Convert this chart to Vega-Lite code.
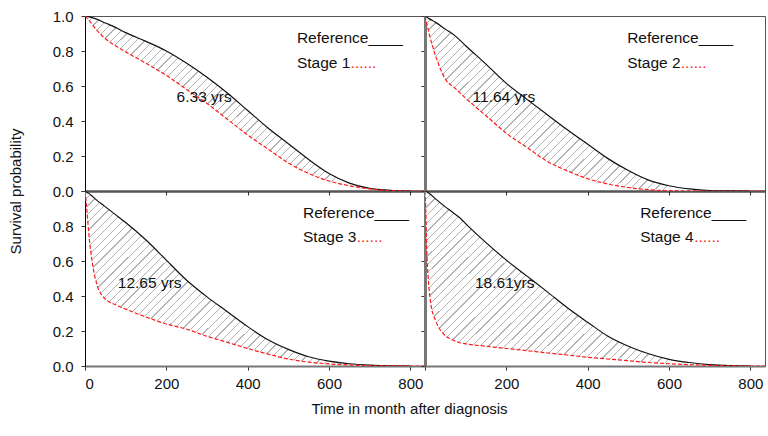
{
"$schema": "https://vega.github.io/schema/vega-lite/v6.json",
"padding": {"left": 7, "top": 8, "right": 2, "bottom": 4},
"background": "white",
"datasets": {
"curves": [
{"panel":"S1","t":0,"ref":1,"stage":1},
{"panel":"S1","t":10,"ref":0.995,"stage":0.975},
{"panel":"S1","t":25,"ref":0.985,"stage":0.93},
{"panel":"S1","t":50,"ref":0.96,"stage":0.87},
{"panel":"S1","t":75,"ref":0.935,"stage":0.83},
{"panel":"S1","t":100,"ref":0.905,"stage":0.795},
{"panel":"S1","t":150,"ref":0.855,"stage":0.73},
{"panel":"S1","t":200,"ref":0.8,"stage":0.66},
{"panel":"S1","t":250,"ref":0.73,"stage":0.58},
{"panel":"S1","t":300,"ref":0.65,"stage":0.5},
{"panel":"S1","t":350,"ref":0.56,"stage":0.41},
{"panel":"S1","t":400,"ref":0.46,"stage":0.32},
{"panel":"S1","t":450,"ref":0.36,"stage":0.24},
{"panel":"S1","t":500,"ref":0.27,"stage":0.16},
{"panel":"S1","t":550,"ref":0.18,"stage":0.1},
{"panel":"S1","t":600,"ref":0.1,"stage":0.057},
{"panel":"S1","t":650,"ref":0.045,"stage":0.03},
{"panel":"S1","t":700,"ref":0.015,"stage":0.012},
{"panel":"S1","t":750,"ref":0.004,"stage":0.003},
{"panel":"S1","t":800,"ref":0,"stage":0},
{"panel":"S1","t":836,"ref":null,"stage":0},
{"panel":"S2","t":0,"ref":1,"stage":1},
{"panel":"S2","t":5,"ref":0.993,"stage":0.95},
{"panel":"S2","t":10,"ref":0.985,"stage":0.9},
{"panel":"S2","t":25,"ref":0.965,"stage":0.78},
{"panel":"S2","t":50,"ref":0.925,"stage":0.64},
{"panel":"S2","t":75,"ref":0.885,"stage":0.585},
{"panel":"S2","t":100,"ref":0.83,"stage":0.53},
{"panel":"S2","t":150,"ref":0.725,"stage":0.43},
{"panel":"S2","t":200,"ref":0.615,"stage":0.33},
{"panel":"S2","t":250,"ref":0.525,"stage":0.25},
{"panel":"S2","t":300,"ref":0.437,"stage":0.17},
{"panel":"S2","t":350,"ref":0.35,"stage":0.115},
{"panel":"S2","t":400,"ref":0.267,"stage":0.07},
{"panel":"S2","t":450,"ref":0.185,"stage":0.04},
{"panel":"S2","t":500,"ref":0.117,"stage":0.02},
{"panel":"S2","t":550,"ref":0.062,"stage":0.007},
{"panel":"S2","t":600,"ref":0.03,"stage":0.002},
{"panel":"S2","t":650,"ref":0.012,"stage":0.001},
{"panel":"S2","t":700,"ref":0.003,"stage":0},
{"panel":"S2","t":750,"ref":0.001,"stage":0},
{"panel":"S2","t":800,"ref":0,"stage":0},
{"panel":"S2","t":836,"ref":null,"stage":0},
{"panel":"S3","t":0,"ref":1,"stage":1},
{"panel":"S3","t":5,"ref":0.992,"stage":0.88},
{"panel":"S3","t":10,"ref":0.985,"stage":0.74},
{"panel":"S3","t":18,"ref":0.97,"stage":0.59},
{"panel":"S3","t":30,"ref":0.945,"stage":0.46},
{"panel":"S3","t":47,"ref":0.915,"stage":0.39},
{"panel":"S3","t":75,"ref":0.865,"stage":0.35},
{"panel":"S3","t":100,"ref":0.82,"stage":0.325},
{"panel":"S3","t":150,"ref":0.72,"stage":0.28},
{"panel":"S3","t":200,"ref":0.605,"stage":0.24},
{"panel":"S3","t":250,"ref":0.49,"stage":0.21},
{"panel":"S3","t":300,"ref":0.395,"stage":0.17},
{"panel":"S3","t":350,"ref":0.31,"stage":0.135},
{"panel":"S3","t":400,"ref":0.225,"stage":0.1},
{"panel":"S3","t":450,"ref":0.15,"stage":0.068},
{"panel":"S3","t":500,"ref":0.095,"stage":0.04},
{"panel":"S3","t":550,"ref":0.053,"stage":0.022},
{"panel":"S3","t":600,"ref":0.028,"stage":0.012},
{"panel":"S3","t":650,"ref":0.013,"stage":0.006},
{"panel":"S3","t":700,"ref":0.005,"stage":0.002},
{"panel":"S3","t":750,"ref":0.001,"stage":0.001},
{"panel":"S3","t":800,"ref":0,"stage":0},
{"panel":"S3","t":836,"ref":null,"stage":0},
{"panel":"S4","t":0,"ref":1,"stage":1},
{"panel":"S4","t":2,"ref":0.998,"stage":0.88},
{"panel":"S4","t":4,"ref":0.996,"stage":0.69},
{"panel":"S4","t":8,"ref":0.99,"stage":0.5},
{"panel":"S4","t":14,"ref":0.98,"stage":0.36},
{"panel":"S4","t":26,"ref":0.955,"stage":0.26},
{"panel":"S4","t":47,"ref":0.915,"stage":0.18},
{"panel":"S4","t":67,"ref":0.88,"stage":0.15},
{"panel":"S4","t":84,"ref":0.85,"stage":0.134},
{"panel":"S4","t":108,"ref":0.795,"stage":0.124},
{"panel":"S4","t":150,"ref":0.705,"stage":0.113},
{"panel":"S4","t":200,"ref":0.605,"stage":0.1},
{"panel":"S4","t":250,"ref":0.515,"stage":0.088},
{"panel":"S4","t":300,"ref":0.425,"stage":0.075},
{"panel":"S4","t":350,"ref":0.333,"stage":0.063},
{"panel":"S4","t":400,"ref":0.25,"stage":0.05},
{"panel":"S4","t":450,"ref":0.17,"stage":0.04},
{"panel":"S4","t":500,"ref":0.113,"stage":0.03},
{"panel":"S4","t":550,"ref":0.07,"stage":0.02},
{"panel":"S4","t":600,"ref":0.038,"stage":0.013},
{"panel":"S4","t":650,"ref":0.02,"stage":0.008},
{"panel":"S4","t":700,"ref":0.008,"stage":0.004},
{"panel":"S4","t":750,"ref":0.002,"stage":0.001},
{"panel":"S4","t":800,"ref":0,"stage":0},
{"panel":"S4","t":836,"ref":null,"stage":0}
],
"labels": [
{"panel":"S1","role":"pct","t":293,"S":0.54,"text":"6.33 yrs"},
{"panel":"S1","role":"ref","t":521,"S":0.874,"text":"Reference____"},
{"panel":"S1","role":"stage","t":521,"S":0.731,"text":"Stage 1"},
{"panel":"S1","role":"dots","t":653,"S":0.731,"text":"......"},
{"panel":"S2","role":"pct","t":194,"S":0.54,"text":"11.64 yrs"},
{"panel":"S2","role":"ref","t":497,"S":0.874,"text":"Reference____"},
{"panel":"S2","role":"stage","t":497,"S":0.731,"text":"Stage 2"},
{"panel":"S2","role":"dots","t":629,"S":0.731,"text":"......"},
{"panel":"S3","role":"pct","t":159,"S":0.472,"text":"12.65 yrs"},
{"panel":"S3","role":"ref","t":536,"S":0.876,"text":"Reference____"},
{"panel":"S3","role":"stage","t":536,"S":0.738,"text":"Stage 3"},
{"panel":"S3","role":"dots","t":668,"S":0.738,"text":"......"},
{"panel":"S4","role":"pct","t":196,"S":0.472,"text":"18.61yrs"},
{"panel":"S4","role":"ref","t":529,"S":0.876,"text":"Reference____"},
{"panel":"S4","role":"stage","t":529,"S":0.738,"text":"Stage 4"},
{"panel":"S4","role":"dots","t":662,"S":0.738,"text":"......"}
]
},
"columns": 2,
"spacing": 0,
"bounds": "flush",
"concat": [
{"width": 340, "height": 175, "layer": [
 {"data":{"name":"curves"},"transform":[{"filter":"datum.panel=='S1' && isValid(datum.ref)"}],
  "mark":{"type":"area","clip":true,"interpolate":"monotone"},
  "encoding":{
   "x":{"field":"t","type":"quantitative","title":null,"scale":{"domain":[0,836],"nice":false,"zero":false},"axis":{"values":[0,200,400,600,800],"labels":false,"domainColor":"#000","domainWidth":2}},
   "y":{"field":"ref","type":"quantitative","title":"Survival probability","scale":{"domain":[0,1],"nice":false},"axis":{"values":[0,0.2,0.4,0.6,0.8,1],"format":".1f","labelOverlap":false,"domainColor":"#000","titleX":-62,"titleY":175}},
   "y2":{"field":"stage"}}},
 {"data":{"name":"curves"},"transform":[{"filter":"datum.panel=='S1' && isValid(datum.ref)"}],
  "mark":{"type":"line","color":"#111","strokeWidth":1.2,"clip":true,"interpolate":"monotone"},
  "encoding":{"x":{"field":"t","type":"quantitative","title":null},"y":{"field":"ref","type":"quantitative","title":"Survival probability","axis":{"values":[0,0.2,0.4,0.6,0.8,1],"format":".1f","labelOverlap":false,"domainColor":"#000","titleX":-62,"titleY":175}}}},
 {"data":{"name":"curves"},"transform":[{"filter":"datum.panel=='S1'"}],
  "mark":{"type":"line","color":"#ff1a1a","strokeWidth":1.2,"strokeDash":[4,2],"clip":true,"interpolate":"monotone"},
  "encoding":{"x":{"field":"t","type":"quantitative","title":null},"y":{"field":"stage","type":"quantitative","title":"Survival probability","axis":{"values":[0,0.2,0.4,0.6,0.8,1],"format":".1f","labelOverlap":false,"domainColor":"#000","titleX":-62,"titleY":175}}}},
 {"data":{"name":"labels"},"transform":[{"filter":"datum.panel=='S1' && datum.role=='pct'"}],
  "mark":{"type":"text","align":"center","baseline":"middle"},
  "encoding":{"x":{"field":"t","type":"quantitative","title":null},"y":{"field":"S","type":"quantitative","title":"Survival probability","axis":{"values":[0,0.2,0.4,0.6,0.8,1],"format":".1f","labelOverlap":false,"domainColor":"#000","titleX":-62,"titleY":175}},"text":{"field":"text"}}},
 {"data":{"name":"labels"},"transform":[{"filter":"datum.panel=='S1' && datum.role!='pct'"}],
  "mark":{"type":"text","align":"left","baseline":"middle"},
  "encoding":{"x":{"field":"t","type":"quantitative","title":null},"y":{"field":"S","type":"quantitative","title":"Survival probability","axis":{"values":[0,0.2,0.4,0.6,0.8,1],"format":".1f","labelOverlap":false,"domainColor":"#000","titleX":-62,"titleY":175}},"text":{"field":"text"},"color":{"condition":{"test":"datum.role=='dots'","value":"#ff1a1a"},"value":"#111"}}}
]},
{"width": 340, "height": 175, "layer": [
 {"data":{"name":"curves"},"transform":[{"filter":"datum.panel=='S2' && isValid(datum.ref)"}],
  "mark":{"type":"area","clip":true,"interpolate":"monotone"},
  "encoding":{
   "x":{"field":"t","type":"quantitative","title":null,"scale":{"domain":[0,836],"nice":false,"zero":false},"axis":{"values":[0,200,400,600,800],"labels":false,"domainColor":"#000","domainWidth":2}},
   "y":{"field":"ref","type":"quantitative","title":null,"scale":{"domain":[0,1],"nice":false},"axis":{"values":[0,0.2,0.4,0.6,0.8,1],"labels":false,"domainColor":"#777","domainWidth":3}},
   "y2":{"field":"stage"}}},
 {"data":{"name":"curves"},"transform":[{"filter":"datum.panel=='S2' && isValid(datum.ref)"}],
  "mark":{"type":"line","color":"#111","strokeWidth":1.2,"clip":true,"interpolate":"monotone"},
  "encoding":{"x":{"field":"t","type":"quantitative","title":null},"y":{"field":"ref","type":"quantitative","title":null,"axis":{"values":[0,0.2,0.4,0.6,0.8,1],"labels":false,"domainColor":"#777","domainWidth":3}}}},
 {"data":{"name":"curves"},"transform":[{"filter":"datum.panel=='S2'"}],
  "mark":{"type":"line","color":"#ff1a1a","strokeWidth":1.2,"strokeDash":[4,2],"clip":true,"interpolate":"monotone"},
  "encoding":{"x":{"field":"t","type":"quantitative","title":null},"y":{"field":"stage","type":"quantitative","title":null,"axis":{"values":[0,0.2,0.4,0.6,0.8,1],"labels":false,"domainColor":"#777","domainWidth":3}}}},
 {"data":{"name":"labels"},"transform":[{"filter":"datum.panel=='S2' && datum.role=='pct'"}],
  "mark":{"type":"text","align":"center","baseline":"middle"},
  "encoding":{"x":{"field":"t","type":"quantitative","title":null},"y":{"field":"S","type":"quantitative","title":null,"axis":{"values":[0,0.2,0.4,0.6,0.8,1],"labels":false,"domainColor":"#777","domainWidth":3}},"text":{"field":"text"}}},
 {"data":{"name":"labels"},"transform":[{"filter":"datum.panel=='S2' && datum.role!='pct'"}],
  "mark":{"type":"text","align":"left","baseline":"middle"},
  "encoding":{"x":{"field":"t","type":"quantitative","title":null},"y":{"field":"S","type":"quantitative","title":null,"axis":{"values":[0,0.2,0.4,0.6,0.8,1],"labels":false,"domainColor":"#777","domainWidth":3}},"text":{"field":"text"},"color":{"condition":{"test":"datum.role=='dots'","value":"#ff1a1a"},"value":"#111"}}}
]},
{"width": 340, "height": 175, "layer": [
 {"data":{"name":"curves"},"transform":[{"filter":"datum.panel=='S3' && isValid(datum.ref)"}],
  "mark":{"type":"area","clip":true,"interpolate":"monotone"},
  "encoding":{
   "x":{"field":"t","type":"quantitative","title":"Time in month after diagnosis","scale":{"domain":[0,836],"nice":false,"zero":false},"axis":{"values":[0,200,400,600,800],"domainColor":"#777","domainWidth":2,"titleX":324,"titlePadding":10}},
   "y":{"field":"ref","type":"quantitative","title":null,"scale":{"domain":[0,1],"nice":false},"axis":{"values":[0,0.2,0.4,0.6,0.8,1],"format":".1f","labelOverlap":false,"labelExpr":"datum.value == 1 ? '' : datum.label","domainColor":"#000"}},
   "y2":{"field":"stage"}}},
 {"data":{"name":"curves"},"transform":[{"filter":"datum.panel=='S3' && isValid(datum.ref)"}],
  "mark":{"type":"line","color":"#111","strokeWidth":1.2,"clip":true,"interpolate":"monotone"},
  "encoding":{"x":{"field":"t","type":"quantitative","title":"Time in month after diagnosis"},"y":{"field":"ref","type":"quantitative","title":null,"axis":{"values":[0,0.2,0.4,0.6,0.8,1],"format":".1f","labelOverlap":false,"labelExpr":"datum.value == 1 ? '' : datum.label","domainColor":"#000"}}}},
 {"data":{"name":"curves"},"transform":[{"filter":"datum.panel=='S3'"}],
  "mark":{"type":"line","color":"#ff1a1a","strokeWidth":1.2,"strokeDash":[4,2],"clip":true,"interpolate":"monotone"},
  "encoding":{"x":{"field":"t","type":"quantitative","title":"Time in month after diagnosis"},"y":{"field":"stage","type":"quantitative","title":null,"axis":{"values":[0,0.2,0.4,0.6,0.8,1],"format":".1f","labelOverlap":false,"labelExpr":"datum.value == 1 ? '' : datum.label","domainColor":"#000"}}}},
 {"data":{"name":"labels"},"transform":[{"filter":"datum.panel=='S3' && datum.role=='pct'"}],
  "mark":{"type":"text","align":"center","baseline":"middle"},
  "encoding":{"x":{"field":"t","type":"quantitative","title":"Time in month after diagnosis"},"y":{"field":"S","type":"quantitative","title":null,"axis":{"values":[0,0.2,0.4,0.6,0.8,1],"format":".1f","labelOverlap":false,"labelExpr":"datum.value == 1 ? '' : datum.label","domainColor":"#000"}},"text":{"field":"text"}}},
 {"data":{"name":"labels"},"transform":[{"filter":"datum.panel=='S3' && datum.role!='pct'"}],
  "mark":{"type":"text","align":"left","baseline":"middle"},
  "encoding":{"x":{"field":"t","type":"quantitative","title":"Time in month after diagnosis"},"y":{"field":"S","type":"quantitative","title":null,"axis":{"values":[0,0.2,0.4,0.6,0.8,1],"format":".1f","labelOverlap":false,"labelExpr":"datum.value == 1 ? '' : datum.label","domainColor":"#000"}},"text":{"field":"text"},"color":{"condition":{"test":"datum.role=='dots'","value":"#ff1a1a"},"value":"#111"}}}
]},
{"width": 340, "height": 175, "layer": [
 {"data":{"name":"curves"},"transform":[{"filter":"datum.panel=='S4' && isValid(datum.ref)"}],
  "mark":{"type":"area","clip":true,"interpolate":"monotone"},
  "encoding":{
   "x":{"field":"t","type":"quantitative","title":null,"scale":{"domain":[0,836],"nice":false,"zero":false},"axis":{"values":[0,200,400,600,800],"labelExpr":"datum.value == 0 ? '' : datum.label","domainColor":"#777","domainWidth":2}},
   "y":{"field":"ref","type":"quantitative","title":null,"scale":{"domain":[0,1],"nice":false},"axis":{"values":[0,0.2,0.4,0.6,0.8,1],"labels":false,"domainColor":"#777","domainWidth":3}},
   "y2":{"field":"stage"}}},
 {"data":{"name":"curves"},"transform":[{"filter":"datum.panel=='S4' && isValid(datum.ref)"}],
  "mark":{"type":"line","color":"#111","strokeWidth":1.2,"clip":true,"interpolate":"monotone"},
  "encoding":{"x":{"field":"t","type":"quantitative","title":null},"y":{"field":"ref","type":"quantitative","title":null,"axis":{"values":[0,0.2,0.4,0.6,0.8,1],"labels":false,"domainColor":"#777","domainWidth":3}}}},
 {"data":{"name":"curves"},"transform":[{"filter":"datum.panel=='S4'"}],
  "mark":{"type":"line","color":"#ff1a1a","strokeWidth":1.2,"strokeDash":[4,2],"clip":true,"interpolate":"monotone"},
  "encoding":{"x":{"field":"t","type":"quantitative","title":null},"y":{"field":"stage","type":"quantitative","title":null,"axis":{"values":[0,0.2,0.4,0.6,0.8,1],"labels":false,"domainColor":"#777","domainWidth":3}}}},
 {"data":{"name":"labels"},"transform":[{"filter":"datum.panel=='S4' && datum.role=='pct'"}],
  "mark":{"type":"text","align":"center","baseline":"middle"},
  "encoding":{"x":{"field":"t","type":"quantitative","title":null},"y":{"field":"S","type":"quantitative","title":null,"axis":{"values":[0,0.2,0.4,0.6,0.8,1],"labels":false,"domainColor":"#777","domainWidth":3}},"text":{"field":"text"}}},
 {"data":{"name":"labels"},"transform":[{"filter":"datum.panel=='S4' && datum.role!='pct'"}],
  "mark":{"type":"text","align":"left","baseline":"middle"},
  "encoding":{"x":{"field":"t","type":"quantitative","title":null},"y":{"field":"S","type":"quantitative","title":null,"axis":{"values":[0,0.2,0.4,0.6,0.8,1],"labels":false,"domainColor":"#777","domainWidth":3}},"text":{"field":"text"},"color":{"condition":{"test":"datum.role=='dots'","value":"#ff1a1a"},"value":"#111"}}}
]}
],
"config": {
 "view": {"stroke": "#555", "strokeWidth": 1},
 "font": "Liberation Sans",
 "axis": {"grid": false, "tickSize": 4, "tickColor": "#333", "labelFont": "Liberation Sans", "labelFontSize": 15, "labelColor": "#111", "labelOverlap": false, "titleFont": "Liberation Sans", "titleFontSize": 15, "titleFontWeight": "normal", "titleColor": "#111", "domainColor": "#222", "labelPadding": 8},
 "axisX": {"labelPadding": 6},
 "axisY": {"labelFlush": false},
 "text": {"font": "Liberation Sans", "fontSize": 15.5, "color": "#111"},
 "area": {"fillOpacity": 1, "fill": {"gradient": "linear", "x1": 0, "y1": 0, "x2": 1, "y2": 0.54, "stops": [
{"offset":0,"color":"#b3b3b3"},{"offset":0.003,"color":"#b3b3b3"},{"offset":0.003,"color":"#fff"},{"offset":0.02,"color":"#fff"},
{"offset":0.02,"color":"#b3b3b3"},{"offset":0.023,"color":"#b3b3b3"},{"offset":0.023,"color":"#fff"},{"offset":0.04,"color":"#fff"},
{"offset":0.04,"color":"#b3b3b3"},{"offset":0.043,"color":"#b3b3b3"},{"offset":0.043,"color":"#fff"},{"offset":0.06,"color":"#fff"},
{"offset":0.06,"color":"#b3b3b3"},{"offset":0.063,"color":"#b3b3b3"},{"offset":0.063,"color":"#fff"},{"offset":0.08,"color":"#fff"},
{"offset":0.08,"color":"#b3b3b3"},{"offset":0.083,"color":"#b3b3b3"},{"offset":0.083,"color":"#fff"},{"offset":0.1,"color":"#fff"},
{"offset":0.1,"color":"#b3b3b3"},{"offset":0.103,"color":"#b3b3b3"},{"offset":0.103,"color":"#fff"},{"offset":0.12,"color":"#fff"},
{"offset":0.12,"color":"#b3b3b3"},{"offset":0.123,"color":"#b3b3b3"},{"offset":0.123,"color":"#fff"},{"offset":0.14,"color":"#fff"},
{"offset":0.14,"color":"#b3b3b3"},{"offset":0.143,"color":"#b3b3b3"},{"offset":0.143,"color":"#fff"},{"offset":0.16,"color":"#fff"},
{"offset":0.16,"color":"#b3b3b3"},{"offset":0.163,"color":"#b3b3b3"},{"offset":0.163,"color":"#fff"},{"offset":0.18,"color":"#fff"},
{"offset":0.18,"color":"#b3b3b3"},{"offset":0.183,"color":"#b3b3b3"},{"offset":0.183,"color":"#fff"},{"offset":0.2,"color":"#fff"},
{"offset":0.2,"color":"#b3b3b3"},{"offset":0.203,"color":"#b3b3b3"},{"offset":0.203,"color":"#fff"},{"offset":0.22,"color":"#fff"},
{"offset":0.22,"color":"#b3b3b3"},{"offset":0.223,"color":"#b3b3b3"},{"offset":0.223,"color":"#fff"},{"offset":0.24,"color":"#fff"},
{"offset":0.24,"color":"#b3b3b3"},{"offset":0.243,"color":"#b3b3b3"},{"offset":0.243,"color":"#fff"},{"offset":0.26,"color":"#fff"},
{"offset":0.26,"color":"#b3b3b3"},{"offset":0.263,"color":"#b3b3b3"},{"offset":0.263,"color":"#fff"},{"offset":0.28,"color":"#fff"},
{"offset":0.28,"color":"#b3b3b3"},{"offset":0.283,"color":"#b3b3b3"},{"offset":0.283,"color":"#fff"},{"offset":0.3,"color":"#fff"},
{"offset":0.3,"color":"#b3b3b3"},{"offset":0.303,"color":"#b3b3b3"},{"offset":0.303,"color":"#fff"},{"offset":0.32,"color":"#fff"},
{"offset":0.32,"color":"#b3b3b3"},{"offset":0.323,"color":"#b3b3b3"},{"offset":0.323,"color":"#fff"},{"offset":0.34,"color":"#fff"},
{"offset":0.34,"color":"#b3b3b3"},{"offset":0.343,"color":"#b3b3b3"},{"offset":0.343,"color":"#fff"},{"offset":0.36,"color":"#fff"},
{"offset":0.36,"color":"#b3b3b3"},{"offset":0.363,"color":"#b3b3b3"},{"offset":0.363,"color":"#fff"},{"offset":0.38,"color":"#fff"},
{"offset":0.38,"color":"#b3b3b3"},{"offset":0.383,"color":"#b3b3b3"},{"offset":0.383,"color":"#fff"},{"offset":0.4,"color":"#fff"},
{"offset":0.4,"color":"#b3b3b3"},{"offset":0.403,"color":"#b3b3b3"},{"offset":0.403,"color":"#fff"},{"offset":0.42,"color":"#fff"},
{"offset":0.42,"color":"#b3b3b3"},{"offset":0.423,"color":"#b3b3b3"},{"offset":0.423,"color":"#fff"},{"offset":0.44,"color":"#fff"},
{"offset":0.44,"color":"#b3b3b3"},{"offset":0.443,"color":"#b3b3b3"},{"offset":0.443,"color":"#fff"},{"offset":0.46,"color":"#fff"},
{"offset":0.46,"color":"#b3b3b3"},{"offset":0.463,"color":"#b3b3b3"},{"offset":0.463,"color":"#fff"},{"offset":0.48,"color":"#fff"},
{"offset":0.48,"color":"#b3b3b3"},{"offset":0.483,"color":"#b3b3b3"},{"offset":0.483,"color":"#fff"},{"offset":0.5,"color":"#fff"},
{"offset":0.5,"color":"#b3b3b3"},{"offset":0.503,"color":"#b3b3b3"},{"offset":0.503,"color":"#fff"},{"offset":0.52,"color":"#fff"},
{"offset":0.52,"color":"#b3b3b3"},{"offset":0.523,"color":"#b3b3b3"},{"offset":0.523,"color":"#fff"},{"offset":0.54,"color":"#fff"},
{"offset":0.54,"color":"#b3b3b3"},{"offset":0.543,"color":"#b3b3b3"},{"offset":0.543,"color":"#fff"},{"offset":0.56,"color":"#fff"},
{"offset":0.56,"color":"#b3b3b3"},{"offset":0.563,"color":"#b3b3b3"},{"offset":0.563,"color":"#fff"},{"offset":0.58,"color":"#fff"},
{"offset":0.58,"color":"#b3b3b3"},{"offset":0.583,"color":"#b3b3b3"},{"offset":0.583,"color":"#fff"},{"offset":0.6,"color":"#fff"},
{"offset":0.6,"color":"#b3b3b3"},{"offset":0.603,"color":"#b3b3b3"},{"offset":0.603,"color":"#fff"},{"offset":0.62,"color":"#fff"},
{"offset":0.62,"color":"#b3b3b3"},{"offset":0.623,"color":"#b3b3b3"},{"offset":0.623,"color":"#fff"},{"offset":0.64,"color":"#fff"},
{"offset":0.64,"color":"#b3b3b3"},{"offset":0.643,"color":"#b3b3b3"},{"offset":0.643,"color":"#fff"},{"offset":0.66,"color":"#fff"},
{"offset":0.66,"color":"#b3b3b3"},{"offset":0.663,"color":"#b3b3b3"},{"offset":0.663,"color":"#fff"},{"offset":0.68,"color":"#fff"},
{"offset":0.68,"color":"#b3b3b3"},{"offset":0.683,"color":"#b3b3b3"},{"offset":0.683,"color":"#fff"},{"offset":0.7,"color":"#fff"},
{"offset":0.7,"color":"#b3b3b3"},{"offset":0.703,"color":"#b3b3b3"},{"offset":0.703,"color":"#fff"},{"offset":0.72,"color":"#fff"},
{"offset":0.72,"color":"#b3b3b3"},{"offset":0.723,"color":"#b3b3b3"},{"offset":0.723,"color":"#fff"},{"offset":0.74,"color":"#fff"},
{"offset":0.74,"color":"#b3b3b3"},{"offset":0.743,"color":"#b3b3b3"},{"offset":0.743,"color":"#fff"},{"offset":0.76,"color":"#fff"},
{"offset":0.76,"color":"#b3b3b3"},{"offset":0.763,"color":"#b3b3b3"},{"offset":0.763,"color":"#fff"},{"offset":0.78,"color":"#fff"},
{"offset":0.78,"color":"#b3b3b3"},{"offset":0.783,"color":"#b3b3b3"},{"offset":0.783,"color":"#fff"},{"offset":0.8,"color":"#fff"},
{"offset":0.8,"color":"#b3b3b3"},{"offset":0.803,"color":"#b3b3b3"},{"offset":0.803,"color":"#fff"},{"offset":0.82,"color":"#fff"},
{"offset":0.82,"color":"#b3b3b3"},{"offset":0.823,"color":"#b3b3b3"},{"offset":0.823,"color":"#fff"},{"offset":0.84,"color":"#fff"},
{"offset":0.84,"color":"#b3b3b3"},{"offset":0.843,"color":"#b3b3b3"},{"offset":0.843,"color":"#fff"},{"offset":0.86,"color":"#fff"},
{"offset":0.86,"color":"#b3b3b3"},{"offset":0.863,"color":"#b3b3b3"},{"offset":0.863,"color":"#fff"},{"offset":0.88,"color":"#fff"},
{"offset":0.88,"color":"#b3b3b3"},{"offset":0.883,"color":"#b3b3b3"},{"offset":0.883,"color":"#fff"},{"offset":0.9,"color":"#fff"},
{"offset":0.9,"color":"#b3b3b3"},{"offset":0.903,"color":"#b3b3b3"},{"offset":0.903,"color":"#fff"},{"offset":0.92,"color":"#fff"},
{"offset":0.92,"color":"#b3b3b3"},{"offset":0.923,"color":"#b3b3b3"},{"offset":0.923,"color":"#fff"},{"offset":0.94,"color":"#fff"},
{"offset":0.94,"color":"#b3b3b3"},{"offset":0.943,"color":"#b3b3b3"},{"offset":0.943,"color":"#fff"},{"offset":0.96,"color":"#fff"},
{"offset":0.96,"color":"#b3b3b3"},{"offset":0.963,"color":"#b3b3b3"},{"offset":0.963,"color":"#fff"},{"offset":0.98,"color":"#fff"},
{"offset":0.98,"color":"#b3b3b3"},{"offset":0.983,"color":"#b3b3b3"},{"offset":0.983,"color":"#fff"},{"offset":1,"color":"#fff"}
]}}
}
}
